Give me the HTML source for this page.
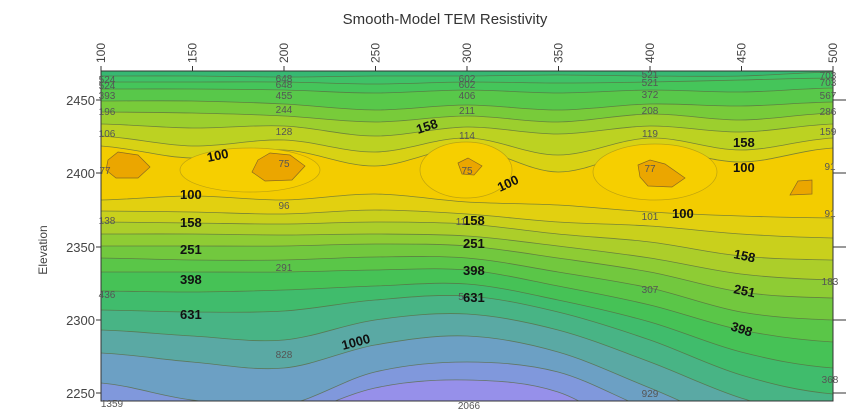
<!DOCTYPE html>
<html><head><meta charset="utf-8">
<style>
html,body{margin:0;padding:0;background:#fff;width:846px;height:414px;overflow:hidden;font-family:"Liberation Sans",sans-serif}
svg{display:block}
</style></head>
<body>
<svg id="s" width="846" height="414" xmlns="http://www.w3.org/2000/svg">
<defs><clipPath id="c"><rect x="101" y="71" width="732" height="330"/></clipPath></defs>
<g id="fills" clip-path="url(#c)"></g>
<g id="lines" clip-path="url(#c)" fill="none" stroke="#5a6a40" stroke-width="0.8" stroke-opacity="0.75"></g>
<g id="blobs" clip-path="url(#c)"></g>
<rect x="101" y="71" width="732" height="330" fill="none" stroke="#333" stroke-width="1"/>
<text x="445" y="24" font-size="15" text-anchor="middle" fill="#333">Smooth-Model TEM Resistivity</text>
<g id="axes" font-size="12" fill="#444"></g>
<g font-size="13" font-weight="bold" fill="#111" id="labels">
<text x="208" y="162" transform="rotate(-12 208 162)">100</text>
<text x="418" y="134" transform="rotate(-18 418 134)">158</text>
<text x="180" y="199">100</text>
<text x="500" y="192" transform="rotate(-25 500 192)">100</text>
<text x="672" y="218">100</text>
<text x="733" y="147">158</text>
<text x="733" y="172">100</text>
<text x="180" y="227">158</text>
<text x="463" y="225">158</text>
<text x="180" y="254">251</text>
<text x="463" y="248">251</text>
<text x="180" y="284">398</text>
<text x="463" y="275">398</text>
<text x="180" y="319">631</text>
<text x="463" y="302">631</text>
<text x="343" y="350" transform="rotate(-15 343 350)">1000</text>
<text x="733" y="258" transform="rotate(12 733 258)">158</text>
<text x="733" y="293" transform="rotate(12 733 293)">251</text>
<text x="730" y="330" transform="rotate(18 730 330)">398</text>
</g>
<g font-size="10" fill="#555" text-anchor="middle">
<text x="107" y="83">524</text><text x="107" y="89">524</text><text x="107" y="99">393</text><text x="107" y="115">196</text><text x="107" y="137">106</text><text x="105" y="174">77</text><text x="107" y="224">138</text><text x="107" y="298">436</text><text x="112" y="407">1359</text>
<text x="284" y="82">648</text><text x="284" y="88">648</text><text x="284" y="99">455</text><text x="284" y="113">244</text><text x="284" y="135">128</text><text x="284" y="167">75</text><text x="284" y="209">96</text><text x="284" y="271">291</text><text x="284" y="358">828</text>
<text x="467" y="82">602</text><text x="467" y="88">602</text><text x="467" y="99">406</text><text x="467" y="114">211</text><text x="467" y="139">114</text><text x="467" y="174">75</text><text x="461" y="225">11</text><text x="461" y="300">5</text><text x="469" y="409">2066</text>
<text x="650" y="78">521</text><text x="650" y="86">521</text><text x="650" y="98">372</text><text x="650" y="114">208</text><text x="650" y="137">119</text><text x="650" y="172">77</text><text x="650" y="220">101</text><text x="650" y="293">307</text><text x="650" y="397">929</text>
<text x="828" y="79">703</text><text x="828" y="86">703</text><text x="828" y="99">567</text><text x="828" y="115">286</text><text x="828" y="135">159</text><text x="830" y="170">91</text><text x="830" y="217">91</text><text x="830" y="285">183</text><text x="830" y="383">368</text>
</g>
<text transform="translate(47 250) rotate(-90)" font-size="12" fill="#444" text-anchor="middle">Elevation</text>
</svg>
<script>
var X=[101,192,284,375,467,558,650,741,833];
function path(ys){var p=X.map(function(x,i){return [x,ys[i]]});p.unshift([0,ys[0]]);p.push([950,ys[ys.length-1]]);
var d="M"+p[0][0]+","+p[0][1];for(var i=0;i<p.length-1;i++){var a=p[Math.max(0,i-1)],b=p[i],c=p[i+1],e=p[Math.min(p.length-1,i+2)];
d+=" C"+(b[0]+(c[0]-a[0])/6)+","+(b[1]+(c[1]-a[1])/6)+" "+(c[0]-(e[0]-b[0])/6)+","+(c[1]-(e[1]-b[1])/6)+" "+c[0]+","+c[1];}return d;}
var C=[
[[76,76,77,76,76,75,76,76,72],"#3fc267"],
[[82,82,82,84,82,83,82,80,78],"#45c55a"],
[[89,89,90,93,90,93,90,92,88],"#58c84a"],
[[101,101,104,110,105,110,104,106,102],"#78cb3a"],
[[112,113,116,122,116,122,114,120,113],"#9ccf2e"],
[[124,128,126,136,127,134,126,132,124],"#bcd222"],
[[136,146,140,152,138,155,138,150,138],"#d8d214"],
[[146,158,150,166,148,172,150,162,148],"#f3cc00"],
[[200,196,200,194,202,205,212,216,218],"#e2d010"],
[[211,212,214,210,214,222,226,234,238],"#c9d01c"],
[[222,223,224,222,224,234,242,256,260],"#acce2a"],
[[234,234,235,234,236,246,258,274,280],"#8ecc34"],
[[246,246,246,244,246,258,272,292,298],"#72c83e"],
[[258,260,260,257,258,272,288,312,320],"#5ac648"],
[[272,272,272,270,270,286,305,330,342],"#46c256"],
[[291,292,290,286,284,300,322,352,368],"#40bc6c"],
[[310,312,311,300,296,312,340,375,394],"#48b485"],
[[330,336,340,320,314,330,362,398,420],"#5aa9a4"],
[[353,362,368,345,336,352,388,425,440],"#6ca0c4"],
[[383,400,405,372,362,372,410,440,450],"#8098dc"],
[[430,440,420,388,380,392,440,460,460],"#9690ea"]
];
var f=document.getElementById("fills"),l=document.getElementById("lines"),ns="http://www.w3.org/2000/svg";
var bg=document.createElementNS(ns,"rect");bg.setAttribute("x",0);bg.setAttribute("y",0);bg.setAttribute("width",900);bg.setAttribute("height",420);bg.setAttribute("fill","#36b872");f.appendChild(bg);
C.forEach(function(c){var d=path(c[0]);var p=document.createElementNS(ns,"path");p.setAttribute("d",d+" L950,500 L0,500 Z");p.setAttribute("fill",c[1]);f.appendChild(p);
var q=document.createElementNS(ns,"path");q.setAttribute("d",d);l.appendChild(q);});
var b=document.getElementById("blobs");
b.innerHTML='<ellipse cx="250" cy="170" rx="70" ry="22" fill="#f6cf00" stroke="#8a7a20" stroke-width="0.7" stroke-opacity="0.5"/>'+
'<ellipse cx="466" cy="170" rx="46" ry="28" fill="#f6cf00" stroke="#8a7a20" stroke-width="0.7" stroke-opacity="0.5"/>'+
'<ellipse cx="655" cy="172" rx="62" ry="28" fill="#f6cf00" stroke="#8a7a20" stroke-width="0.7" stroke-opacity="0.5"/>'+
'<polygon points="108,160 118,152 138,155 150,167 138,178 116,178 106,170" fill="#eba600" stroke="#8a6a20" stroke-width="0.7"/>'+
'<polygon points="258,160 270,153 290,155 305,166 292,180 265,181 252,172" fill="#eba600" stroke="#8a6a20" stroke-width="0.7"/>'+
'<polygon points="458,163 468,158 482,166 474,175 462,174" fill="#eba600" stroke="#8a6a20" stroke-width="0.7"/>'+
'<polygon points="638,165 650,160 665,164 685,178 672,187 648,186 640,177" fill="#eba600" stroke="#8a6a20" stroke-width="0.7"/>'+
'<polygon points="798,181 812,180 812,194 790,195" fill="#eba600" stroke="#8a6a20" stroke-width="0.7"/>';
var a=document.getElementById("axes"),h="";
for(var i=0;i<9;i++){var x=101+i*91.5;h+='<line x1="'+x+'" y1="66" x2="'+x+'" y2="71" stroke="#333"/>';
h+='<text transform="translate('+(x+4)+' 63) rotate(-90)" font-size="12">'+(100+50*i)+'</text>';}
var ys=[[2450,100],[2400,173],[2350,247],[2300,320],[2250,393]];
ys.forEach(function(v){h+='<line x1="96" y1="'+v[1]+'" x2="101" y2="'+v[1]+'" stroke="#333"/><line x1="833" y1="'+v[1]+'" x2="846" y2="'+v[1]+'" stroke="#333"/>';
h+='<text x="95" y="'+(v[1]+5)+'" text-anchor="end" font-size="13">'+v[0]+'</text>';});
a.innerHTML=h;
</script>
</body></html>
